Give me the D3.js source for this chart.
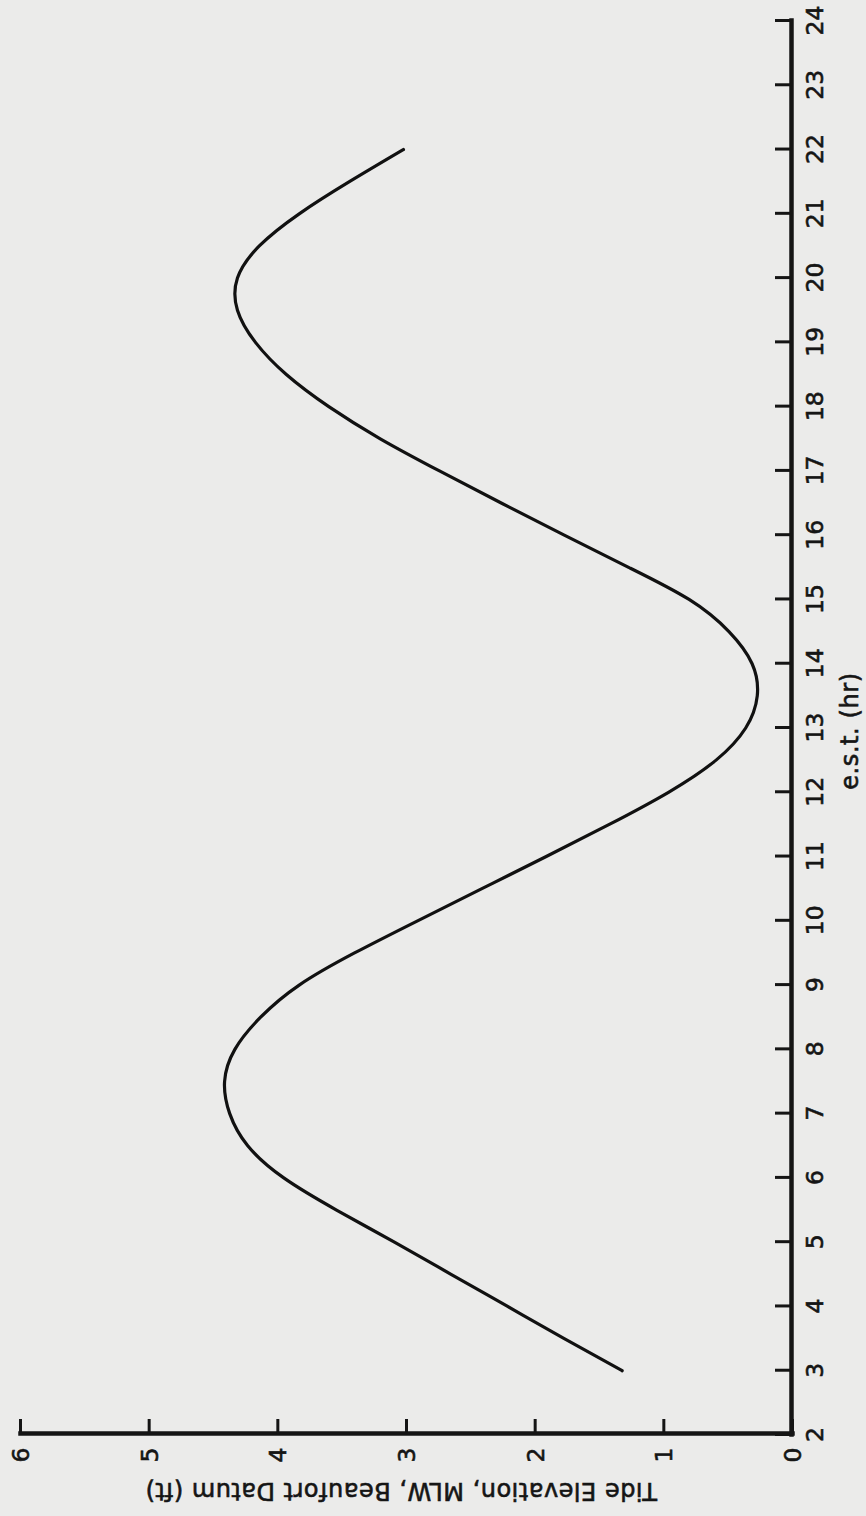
<!DOCTYPE html>
<html>
<head>
<meta charset="utf-8">
<script src="https://cdn.jsdelivr.net/npm/d3@7/dist/d3.min.js"></script>
<style>
  html, body { margin: 0; padding: 0; background: #ebebea; }
  svg { display: block; }
  text { font-family: "DejaVu Sans", sans-serif; fill: #151515; stroke: #151515; stroke-width: 0.6px; }
</style>
</head>
<body>
<script>
// Tide elevation over the day (e.s.t., hours) at Beaufort, relative to MLW
const hours = [3, 3.5, 4, 4.5, 5, 5.5, 6, 6.5, 7, 7.5, 8, 8.5, 9, 9.5, 10, 10.5, 11, 11.5,
  12, 12.5, 13, 13.5, 14, 14.5, 15, 15.5, 16, 16.5, 17, 17.5, 18, 18.5, 19, 19.5, 20, 20.5,
  21, 21.5, 22];
const elevation = [1.32, 1.77, 2.21, 2.65, 3.09, 3.54, 3.95, 4.23, 4.37, 4.41, 4.33, 4.13,
  3.83, 3.40, 2.91, 2.41, 1.91, 1.42, 0.96, 0.59, 0.36, 0.27, 0.31, 0.49, 0.80, 1.27,
  1.77, 2.26, 2.74, 3.20, 3.60, 3.93, 4.17, 4.31, 4.31, 4.14, 3.83, 3.44, 3.02];
const hourTicks = d3.range(2, 25);
const elevTicks = [0, 1, 2, 3, 4, 5, 6];
const xTitle = "e.s.t. (hr)";
const yTitle = "Tide Elevation, MLW, Beaufort Datum (ft)";

const PAGE_W = 866, PAGE_H = 1516;
// The chart is laid out landscape (W x H) and turned a quarter turn onto the page
const W = PAGE_H, H = PAGE_W;

const svg = d3.select("body").append("svg")
  .attr("width", PAGE_W).attr("height", PAGE_H);

const g = svg.append("g")
  .attr("transform", `translate(0,${W}) rotate(-90)`);

const x = d3.scaleLinear().domain([2, 24]).range([81, 1495]);
const y = d3.scaleLinear().domain([0, 6]).range([792, 20]);
const axisY0 = 791;   // position of the hour axis
const axisX0 = 82;    // position of the elevation axis

// hour axis
const gx = g.append("g")
  .attr("transform", `translate(0,${axisY0})`)
  .call(d3.axisBottom(x).tickValues(hourTicks).tickSize(-16).tickSizeOuter(0).tickPadding(15));
gx.select(".domain").attr("stroke", "#151515").attr("stroke-width", 4.5).attr("stroke-linecap", "square");
gx.selectAll(".tick line").attr("stroke", "#151515").attr("stroke-width", 3);
gx.selectAll(".tick text").attr("font-size", 23.5).attr("font-family", "DejaVu Sans, sans-serif")
  .attr("fill", "#151515");

// elevation axis
const gy = g.append("g")
  .attr("transform", `translate(${axisX0},0)`)
  .call(d3.axisLeft(y).tickValues(elevTicks).tickSize(-15).tickSizeOuter(0).tickFormat(d3.format("d")));
gy.select(".domain").attr("stroke", "#151515").attr("stroke-width", 4.5).attr("stroke-linecap", "square");
gy.selectAll(".tick line").attr("stroke", "#151515").attr("stroke-width", 3);
gy.selectAll(".tick text").attr("font-size", 23.5).attr("font-family", "DejaVu Sans, sans-serif")
  .attr("fill", "#151515").attr("text-anchor", "middle").attr("x", -21).attr("dy", "0.36em");

// axis titles
g.append("text")
  .attr("x", 785).attr("y", 858)
  .attr("text-anchor", "middle")
  .attr("font-size", 24)
  .attr("letter-spacing", 0.6)
  .text(xTitle);

g.append("text")
  .attr("transform", `translate(33,${(y(0) + y(6)) / 2 - 5}) rotate(-90)`)
  .attr("text-anchor", "middle")
  .attr("font-size", 24)
  .attr("letter-spacing", 0.5)
  .text(yTitle);

// tide curve
const pts = hours.map((h, i) => [h, elevation[i]]);
const line = d3.line()
  .x(d => x(d[0]))
  .y(d => y(d[1]))
  .curve(d3.curveNatural);

g.append("path")
  .datum(pts)
  .attr("d", line)
  .attr("fill", "none")
  .attr("stroke", "#111")
  .attr("stroke-width", 3.2)
  .attr("stroke-linecap", "round")
  .attr("stroke-linejoin", "round");
</script>
</body>
</html>
